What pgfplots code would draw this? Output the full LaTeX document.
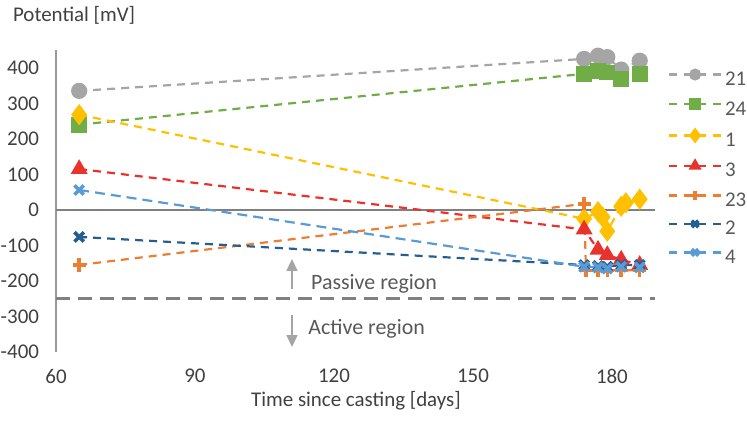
\documentclass[border=0pt]{standalone}
\usepackage{fontspec}
\setmainfont{Carlito}
\usepackage{pgfplots}
\pgfplotsset{compat=1.18}
\usetikzlibrary{arrows.meta}
\definecolor{c21}{HTML}{A5A5A5}
\definecolor{c24}{HTML}{70AD47}
\definecolor{c1}{HTML}{FFC000}
\definecolor{c3}{HTML}{E8322B}
\definecolor{c23}{HTML}{ED7D31}
\definecolor{c2}{HTML}{255E91}
\definecolor{c4}{HTML}{5B9BD5}
\definecolor{axg}{HTML}{999999}
\definecolor{refg}{HTML}{808080}
\definecolor{tickc}{HTML}{404040}
\definecolor{legc}{HTML}{595959}
\begin{document}
\begin{tikzpicture}
\begin{axis}[name=ax, scale only axis, width=299.5bp, height=151bp,
  xmin=60, xmax=189.3, ymin=-400, ymax=450,
  axis lines*=left,
  x axis line style={draw=none},
  y axis line style={draw=axg, line width=1bp},
  xtick={60,90,120,150,180},
  ytick={-400,-300,-200,-100,0,100,200,300,400},
  major tick length=0pt,
  tick style={draw=none},
  /pgf/number format/assume math mode=true,
  tick label style={font=\fontsize{10.5}{12}\selectfont, text=tickc},
  yticklabel style={xshift=-5bp},
  xticklabel style={yshift=-5bp},
  clip=false,
  legend cell align=left,
  legend style={draw=none, fill=none, at={(rel axis cs:1.0217,0.935)}, anchor=north west,
    font=\fontsize{10.5}{12}\selectfont, text=legc, row sep=4.75bp, column sep=0pt,
    inner sep=0pt, outer sep=0pt,
    nodes={inner sep=0pt, text height=7.2bp, text depth=2.3bp}},
  legend image code/.code={
    \draw[#1, solid, mark=none] (0bp,3bp) -- (4bp,3bp) (7.5bp,3bp) -- (18.5bp,3bp) (22bp,3bp) -- (26bp,3bp);
    \draw[#1, solid, /tikz/every mark/.append style={scale=0.7}]
      plot coordinates {(13bp,3bp)};
  },
]
% reference lines
\addplot[refg, line width=1.1bp, forget plot] coordinates {(60,0) (189.3,0)};
\addplot[refg, line width=1.6bp, dash pattern=on 7bp off 4bp, forget plot] coordinates {(60,-250) (189.3,-250)};

\addplot[c21, line width=1.1bp, dash pattern=on 4bp off 3bp, mark=*, mark size=3.5bp, mark options={solid, fill=c21, draw=c21}]
  coordinates {(65,335) (174,425) (177,434) (179,430) (182,395) (186,420)};
\addlegendentry{\hspace{1.4bp}21}
\addplot[c24, line width=1.1bp, dash pattern=on 4bp off 3bp, mark=square*, mark size=3.4bp, mark options={solid, fill=c24, draw=c24}]
  coordinates {(65,240) (174,383) (177,392) (179,387) (182,369) (186,383)};
\addlegendentry{\hspace{1.4bp}24}
\addplot[c1, line width=1.1bp, dash pattern=on 4bp off 3bp, mark=diamond*, mark size=4.4bp, mark options={solid, fill=c1, draw=c1}]
  coordinates {(65,268) (174,-25) (177,-5) (178,-20) (179,-60) (182,10) (183,20) (186,30)};
\addlegendentry{\hspace{1.4bp}1}
\addplot[c3, line width=1.1bp, dash pattern=on 4bp off 3bp, mark=triangle*, mark size=3.8bp, mark options={solid, fill=c3, draw=c3}]
  coordinates {(65,115) (174,-55) (177,-112) (179,-127) (182,-140) (186,-155)};
\addlegendentry{\hspace{1.4bp}3}
\addplot[c23, line width=1.1bp, dash pattern=on 4bp off 3bp, mark=+, mark size=3.3bp, mark options={solid, line width=1.7bp}]
  coordinates {(65,-155) (174,17) (174.4,-170) (177,-170) (179,-170) (182,-170) (186,-170)};
\addlegendentry{\hspace{1.4bp}23}
\addplot[c2, line width=1.1bp, dash pattern=on 4bp off 3bp, mark=x, mark size=3.3bp, mark options={solid, line width=1.8bp}]
  coordinates {(65,-76) (174,-155) (177,-158) (179,-160) (182,-155) (186,-155)};
\addlegendentry{\hspace{1.4bp}2}
\addplot[c4, line width=1.1bp, dash pattern=on 5bp off 3bp, mark=x, mark size=3.3bp, mark options={solid, line width=1.8bp}]
  coordinates {(65,56) (174,-160) (177,-162) (179,-165) (182,-160) (186,-162)};
\addlegendentry{\hspace{1.4bp}4}

% annotations
\draw[-{Triangle[width=5.5bp,length=6bp]}, color=c21, line width=0.8bp] (axis cs:110.94,-222) -- (axis cs:110.94,-138);
\draw[-{Triangle[width=5.5bp,length=6bp]}, color=c21, line width=0.8bp] (axis cs:110.94,-296) -- (axis cs:110.94,-386);
\node[anchor=west, inner sep=0pt, font=\fontsize{11}{13}\selectfont, text=legc] at (axis cs:115.0,-208) {Passive region};
\node[anchor=west, inner sep=0pt, font=\fontsize{11}{13}\selectfont, text=legc] at (axis cs:114.4,-335) {Active region};
\node[anchor=west, inner sep=0pt, font=\fontsize{10.5}{12}\selectfont, text=tickc] at (rel axis cs:-0.0723,1.116) {Potential [mV]};
\node[anchor=center, inner sep=0pt, font=\fontsize{10.5}{12}\selectfont, text=tickc] at (rel axis cs:0.5008,-0.162) {Time since casting [days]};
\end{axis}
\pgfresetboundingbox
\useasboundingbox (ax.south west) ++(-28bp,-35bp) rectangle ++(373.5bp,211bp);
\end{tikzpicture}
\end{document}
